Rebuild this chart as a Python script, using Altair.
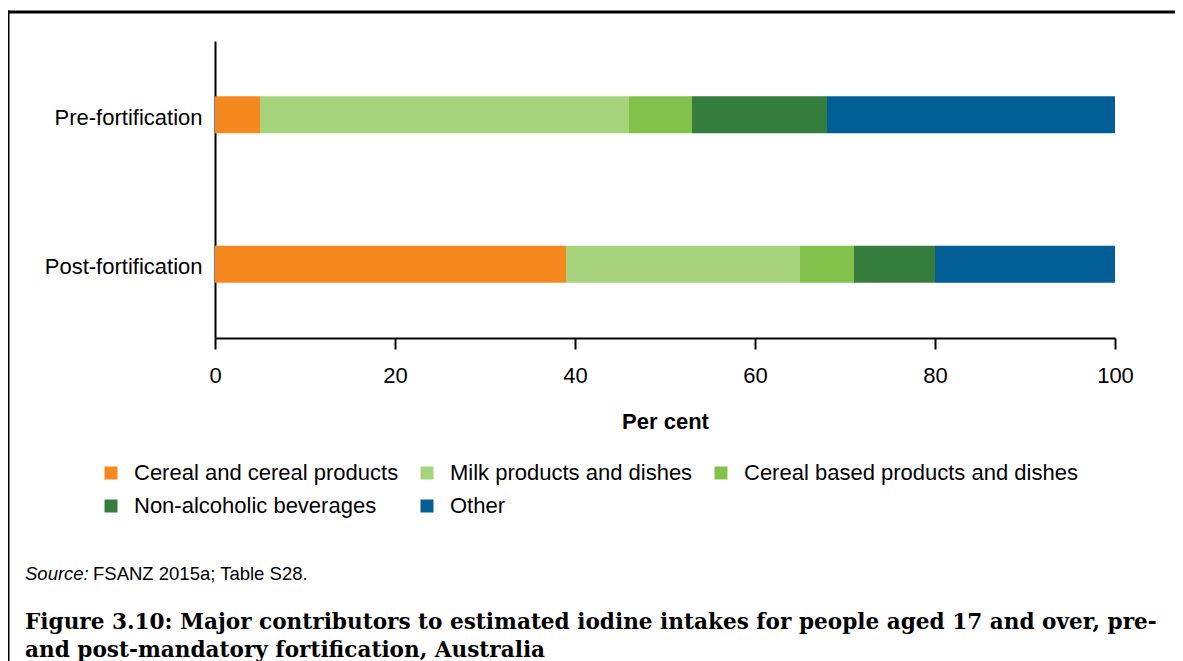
import altair as alt
import pandas as pd

groups = ["Pre-fortification", "Post-fortification"]
categories = [
    "Cereal and cereal products",
    "Milk products and dishes",
    "Cereal based products and dishes",
    "Non-alcoholic beverages",
    "Other",
]
pre_values = [5, 41, 7, 15, 32]
post_values = [39, 26, 6, 9, 20]
colors = ["#F5891F", "#A8D37D", "#82C24A", "#357D3C", "#025F96"]
x_ticks = [0, 20, 40, 60, 80, 100]

source_label = "Source:"
source_text = "FSANZ 2015a; Table S28."
caption_line1 = "Figure 3.10: Major contributors to estimated iodine intakes for people aged 17 and over, pre-"
caption_line2 = "and post-mandatory fortification, Australia"

rows = []
for g, vals in zip(groups, [pre_values, post_values]):
    for i, (c, v) in enumerate(zip(categories, vals)):
        rows.append({"group": g, "category": c, "value": v, "order": i})
df = pd.DataFrame(rows)

W, H = 900, 297
PL, PT = 207, 33
TOTW, TOTH = 1167, 653
OX, OY = PL + 8, PT + 8  # plot origin in page pixels

SANS = "Liberation Sans"
SERIF = "DejaVu Serif"

bars = alt.Chart(df).mark_bar().encode(
    x=alt.X(
        "value:Q",
        stack="zero",
        scale=alt.Scale(domain=[0, 100], nice=False),
        axis=alt.Axis(
            values=x_ticks,
            title="Per cent",
            grid=False,
            labelFlush=False,
            labelPadding=16,
            titlePadding=25,
            titleFontWeight="bold",
            titleFontSize=22,
            titleFont=SANS,
            titleColor="black",
        ),
    ),
    y=alt.Y(
        "group:N",
        sort=groups,
        scale=alt.Scale(paddingInner=0.7525, paddingOuter=0.37),
        axis=alt.Axis(title=None, ticks=False, grid=False, labelPadding=13, labelOffset=3),
    ),
    color=alt.Color(
        "category:N",
        scale=alt.Scale(domain=categories, range=colors),
        legend=alt.Legend(
            title=None,
            orient="none",
            direction="horizontal",
            legendX=100 - OX,
            legendY=462 - OY,
            columns=3,
            symbolType="square",
            symbolSize=169,
            symbolStrokeWidth=0,
            labelFontSize=22,
            labelFont=SANS,
            labelColor="black",
            labelOffset=12,
            columnPadding=17,
            rowPadding=11,
            padding=0,
            labelLimit=600,
        ),
    ),
    order=alt.Order("order:Q"),
)

one = pd.DataFrame({"a": [0]})

src1 = alt.Chart(one).mark_text(
    text=source_label, font=SANS, fontStyle="italic", fontSize=18.5,
    align="left", baseline="alphabetic", color="black",
).encode(x=alt.value(25 - OX), y=alt.value(580 - OY))

src2 = alt.Chart(one).mark_text(
    text=source_text, font=SANS, fontSize=18.5,
    align="left", baseline="alphabetic", color="black",
).encode(x=alt.value(93 - OX), y=alt.value(580 - OY))

cap1 = alt.Chart(one).mark_text(
    text=caption_line1, font=SERIF, fontWeight="bold", fontSize=21.6,
    align="left", baseline="alphabetic", color="black",
).encode(x=alt.value(25 - OX), y=alt.value(629 - OY))

cap2 = alt.Chart(one).mark_text(
    text=caption_line2, font=SERIF, fontWeight="bold", fontSize=21.6,
    align="left", baseline="alphabetic", color="black",
).encode(x=alt.value(25 - OX), y=alt.value(657 - OY))

frame_top = alt.Chart(one).mark_rule(color="black", strokeWidth=3).encode(
    x=alt.value(7 - OX), x2=alt.value(TOTW - PL), y=alt.value(12 - OY)
)
frame_left = alt.Chart(one).mark_rule(color="black", strokeWidth=3).encode(
    x=alt.value(8 - OX), y=alt.value(10.5 - OY), y2=alt.value(TOTH + 20)
)

chart = alt.layer(bars, src1, src2, cap1, cap2, frame_top, frame_left).properties(
    width=W,
    height=H,
    autosize=alt.AutoSizeParams(type="none"),
    padding={"left": PL, "top": PT, "right": TOTW - PL - W, "bottom": TOTH - PT - H},
    background="white",
).configure_view(stroke=None).configure_axis(
    domainColor="black",
    domainWidth=2,
    tickColor="black",
    tickWidth=2,
    tickSize=11,
    labelColor="black",
    labelFont=SANS,
    labelFontSize=22,
)

chart.save("out.html", embed_options={"renderer": "svg", "actions": False})
